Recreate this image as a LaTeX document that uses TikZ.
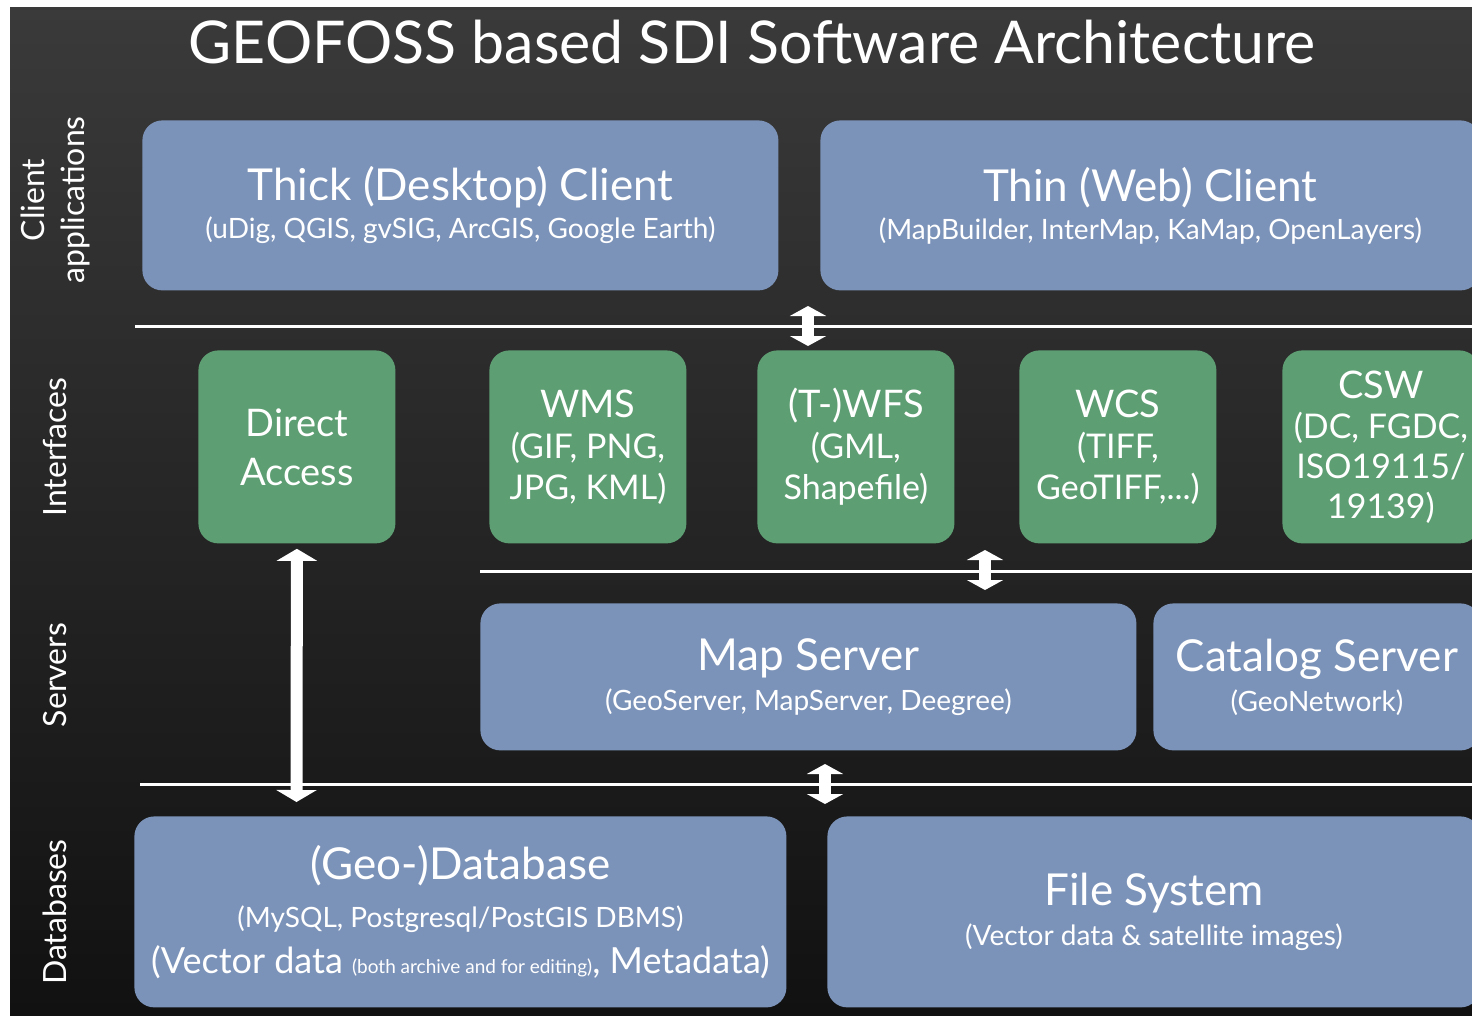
\documentclass[tikz,border=0pt]{standalone}
\usepackage{fontspec}
\setmainfont{Lato}
\usetikzlibrary{arrows.meta,positioning}
\definecolor{boxblue}{HTML}{7C93B9}
\definecolor{boxgreen}{HTML}{5E9E73}
\definecolor{bgtop}{HTML}{3A3A3A}
\definecolor{bgbottom}{HTML}{111111}
\newcommand\geohead{\fontsize{22}{26}\selectfont}
\newcommand\geosub{\fontsize{14}{17}\selectfont}
\newcommand\geoif{\fontsize{17}{20.5}\selectfont}

\begin{document}
\begin{tikzpicture}[x=0.5pt,y=-0.5pt]
					\tikzstyle{every node}=[text=white]
					\tikzstyle{bluebox}=[fill=boxblue,rounded corners=10pt,anchor=north west,align=center,inner sep=0pt,font=\geosub]
					\tikzstyle{greenbox}=[fill=boxgreen,rounded corners=10pt,anchor=north west,align=center,inner sep=0pt,minimum width=98.5pt,minimum height=96.5pt,font=\geoif]
					\tikzstyle{sepline}=[draw=white,line width=1.5pt]
					\tikzstyle{updown}=[white,line width=6pt,{Triangle[width=18pt,length=5pt]}-{Triangle[width=18pt,length=5pt]}]
					\tikzstyle{layer}=[rotate=90,align=center,font=\fontsize{16}{20}\selectfont]

					%% Background
					\useasboundingbox (0,0) rectangle (1472,1017);
					\clip (0,0) rectangle (1472,1017);
					\fill[white] (0,0) rectangle (1472,1017);
					\shade[top color=bgtop,bottom color=bgbottom] (10,7) rectangle (1472,1015);

					\node (title) at (752,42) {\fontsize{29.5}{34}\selectfont GEOFOSS based SDI Software Architecture};

					%% Layer names
					\node[layer] (lclient) at (55,200) {Client\\applications};
					\node[layer] (linterf) at (55,447) {Interfaces};
					\node[layer] (lserver) at (55,675) {Servers};
					\node[layer] (ldbase) at (55,912) {Databases};

					%% Client applications
					\node[bluebox,minimum width=318pt,minimum height=85pt] (thick) at (142,120)
						{{\geohead Thick (Desktop) Client}\\[2pt](uDig, QGIS, gvSIG, ArcGIS, Google Earth)};
					\node[bluebox,minimum width=330pt,minimum height=85pt] (thin) at (820,120)
						{{\geohead Thin (Web) Client}\\[2pt](MapBuilder, InterMap, KaMap, OpenLayers)};

					\draw[sepline] (135,326) -- (1472,326);

					%% Interfaces
					\node[greenbox,font=\fontsize{19}{24.5}\selectfont] (direct) at (198,350) {Direct\\Access};
					\node[greenbox] (wms) at (489,350) {{\fontsize{19}{21}\selectfont WMS}\\(GIF, PNG,\\JPG, KML)};
					\node[greenbox] (wfs) at (757,350) {{\fontsize{19}{21}\selectfont (T-)WFS}\\(GML,\\Shapefile)};
					\node[greenbox] (wcs) at (1019,350) {{\fontsize{19}{21}\selectfont WCS}\\(TIFF,\\GeoTIFF,...)};
					\node[greenbox,font=\fontsize{17}{20}\selectfont] (csw) at (1282,350) {{\fontsize{19}{20}\selectfont CSW}\\(DC, FGDC,\\ISO19115/\\19139)};

					\draw[sepline] (480,571) -- (1472,571);

					%% Servers
					\node[bluebox,minimum width=328pt,minimum height=73.5pt] (mapsrv) at (480,603)
						{{\geohead Map Server}\\[3pt](GeoServer, MapServer, Deegree)};
					\node[bluebox,minimum width=163.5pt,minimum height=73.5pt] (catsrv) at (1153,603)
						{{\geohead Catalog Server}\\[3pt](GeoNetwork)};

					\draw[sepline] (140,784) -- (1472,784);

					%% Databases
					\node[bluebox,minimum width=326pt,minimum height=95.5pt] (geodb) at (134,816)
						{{\geohead (Geo-)Database}\\[7pt](MySQL, Postgresql/PostGIS DBMS)\\[6pt]
						{\fontsize{18}{20}\selectfont (Vector data {\fontsize{9.5}{12}\selectfont (both archive and for editing)}, Metadata)}};
					\node[bluebox,minimum width=326.5pt,minimum height=95.5pt] (filesys) at (827,816)
						{{\geohead File System}\\[3pt](Vector data \& satellite images)};

					%% Arrows between layers
					\coordinate (ciTop) at (808,306);
					\coordinate (ciBot) at (808,346);
					\coordinate (isTop) at (985,550);
					\coordinate (isBot) at (985,590);
					\coordinate (sdTop) at (825,764);
					\coordinate (sdBot) at (825,804);
					\coordinate (daBot) at (296.5,802);
					\draw[updown] (ciTop) -- (ciBot);
					\draw[updown] (isTop) -- (isBot);
					\draw[updown] (sdTop) -- (sdBot);
					\draw[updown,{Triangle[width=20pt,length=6pt]}-{Triangle[width=20pt,length=6pt]}] ([yshift=-2.5pt]direct.south) -- (daBot);
\end{tikzpicture}
\end{document}
